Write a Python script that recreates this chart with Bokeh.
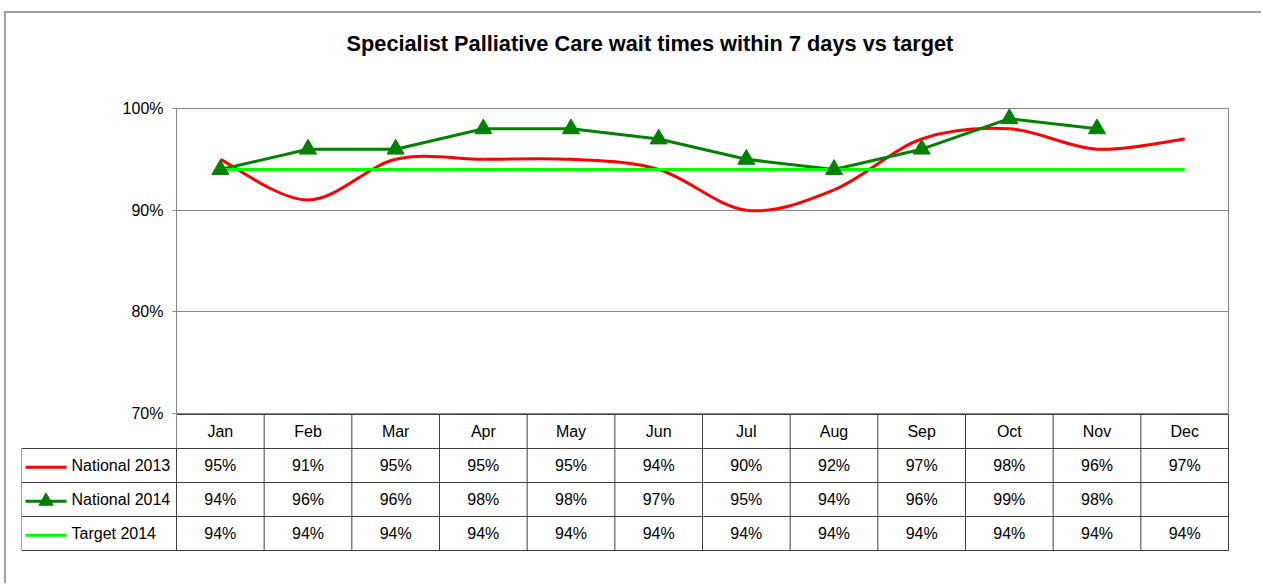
import numpy as np
from bokeh.plotting import figure
from bokeh.models import Range1d, FixedTicker, PrintfTickFormatter
from bokeh.layouts import column
from bokeh.embed import file_html
from bokeh.resources import INLINE
from bokeh.core.properties import value

# ---------------- data ----------------
months = ["Jan", "Feb", "Mar", "Apr", "May", "Jun", "Jul", "Aug", "Sep", "Oct", "Nov", "Dec"]
national_2013 = [95, 91, 95, 95, 95, 94, 90, 92, 97, 98, 96, 97]
national_2014 = [94, 96, 96, 98, 98, 97, 95, 94, 96, 99, 98, None]
target_2014 = [94, 94, 94, 94, 94, 94, 94, 94, 94, 94, 94, 94]
series_names = ["National 2013", "National 2014", "Target 2014"]
y_ticks = [70, 80, 90, 100]
title_text = "Specialist Palliative Care wait times within 7 days vs target"

# ---------------- style ----------------
FONT = "Liberation Sans"
RED = "#FF0000"
GREEN = "#008000"
LIME = "#00FF00"
GRID = "#868686"
TABLE = "#404040"

n = len(months)
xs = np.arange(n) + 0.5

# ---------------- title strip ----------------
p0 = figure(width=1255, height=85, x_range=Range1d(0, 1), y_range=Range1d(0, 1),
            output_backend="svg", toolbar_location=None,
            x_axis_location=None, y_axis_location=None,
            min_border_left=0, min_border_right=0, min_border_top=0, min_border_bottom=0)
p0.frame_align = False
p0.outline_line_color = None
for g in p0.grid:
    g.visible = False
p0.title.text = title_text
p0.title.align = "left"
p0.title.offset = 340
p0.title.text_font = FONT
p0.title.text_font_size = "21.75px"
p0.title.text_font_style = "bold"
p0.title.text_color = "black"
p0.title.standoff = 31

# ---------------- chart ----------------
OVERLAP = 12
p1 = figure(width=1255, height=315 + OVERLAP, x_range=Range1d(0, n), y_range=Range1d(70, 100),
            output_backend="svg", toolbar_location=None, x_axis_location=None,
            min_border_left=170, min_border_right=33, min_border_top=10,
            min_border_bottom=OVERLAP)
p1.frame_align = False
p1.outline_line_color = GRID
p1.outline_line_width = 1
p1.background_fill_color = "white"
p1.border_fill_color = "white"
p1.xgrid.visible = False

ax = p1.yaxis[0]
ax.ticker = FixedTicker(ticks=y_ticks)
ax.formatter = PrintfTickFormatter(format="%d%%")
ax.axis_line_color = GRID
ax.major_tick_line_color = GRID
ax.major_tick_in = 0
ax.major_tick_out = 4
ax.minor_tick_line_color = None
ax.major_label_text_font = FONT
ax.major_label_text_font_size = "16px"
ax.major_label_text_color = "black"
ax.major_label_standoff = 9
p1.ygrid.ticker = FixedTicker(ticks=y_ticks)
p1.ygrid.grid_line_color = GRID
p1.ygrid.grid_line_width = 1

# smoothed 2013 line (Catmull-Rom style Bezier through the data points)
y13 = np.array(national_2013, dtype=float)
i0 = np.arange(n - 1)
i1 = i0 + 1
prev_i = np.clip(i0 - 1, 0, n - 1)
next_i = np.clip(i0 + 2, 0, n - 1)
cx0 = xs[i0] + (xs[i1] - xs[prev_i]) / 6.0
cy0 = y13[i0] + (y13[i1] - y13[prev_i]) / 6.0
cx1 = xs[i1] - (xs[next_i] - xs[i0]) / 6.0
cy1 = y13[i1] - (y13[next_i] - y13[i0]) / 6.0
p1.bezier(x0=xs[i0], y0=y13[i0], x1=xs[i1], y1=y13[i1], cx0=cx0, cy0=cy0, cx1=cx1, cy1=cy1,
          line_color=RED, line_width=3)

y14 = np.array([np.nan if v is None else v for v in national_2014], dtype=float)
p1.line(xs, y14, line_color=GREEN, line_width=3)
p1.line(xs, target_2014, line_color=LIME, line_width=3)
p1.scatter(xs, y14, marker="triangle", size=17, fill_color=GREEN, line_color=GREEN)

# ---------------- data table ----------------
unit = 1052 / n           # pixels per month column
legend_px = 155           # width of the legend column
rowh = 34
left = -legend_px / unit
p2 = figure(width=1255, height=170,
            x_range=Range1d(left, n + 1 / unit), y_range=Range1d(4 + 2 / rowh, -1 / rowh),
            output_backend="svg", toolbar_location=None,
            x_axis_location=None, y_axis_location=None,
            min_border_left=15, min_border_right=32, min_border_top=0, min_border_bottom=31,
            styles={"margin-top": f"-{OVERLAP}px"})
p2.frame_align = False
p2.outline_line_color = None
p2.border_fill_alpha = 0
p2.background_fill_alpha = 0
for g in p2.grid:
    g.visible = False

nrows = len(series_names) + 1
hx0 = [0.0] + [left] * nrows
hx1 = [float(n)] * (nrows + 1)
hy = list(range(nrows + 1))
p2.segment(x0=hx0, y0=hy, x1=hx1, y1=hy, line_color=TABLE, line_width=1)
vx = list(range(1, n + 1)) + [left]
vy0 = [0] * n + [1]
vy1 = [nrows] * (n + 1)
p2.segment(x0=vx, y0=vy0, x1=vx, y1=vy1, line_color=TABLE, line_width=1)
# left edge of the month header continues the value axis line
p2.segment(x0=[0, 0], y0=[0, 1], x1=[0, 0], y1=[1, nrows],
           line_color=[GRID, TABLE], line_width=1)

txt = dict(text_align="center", text_baseline="middle", text_font=value(FONT),
           text_font_size="16px", text_color="black")
p2.text(x=xs, y=[0.5] * n, text=months, **txt)
for r, series in enumerate([national_2013, national_2014, target_2014]):
    labels = ["" if v is None else f"{v}%" for v in series]
    p2.text(x=xs, y=[r + 1.5] * n, text=labels, **txt)

# legend keys in the table's first column
key_x0 = left + 4 / unit
key_x1 = left + 45 / unit
key_lbl = left + 50 / unit
key_y = np.arange(len(series_names)) + 1.55
key_colors = [RED, GREEN, LIME]
p2.segment(x0=[key_x0] * 3, y0=key_y, x1=[key_x1] * 3, y1=key_y, line_color=key_colors, line_width=3)
p2.scatter(x=[(key_x0 + key_x1) / 2], y=[key_y[1]], marker="triangle", size=14,
           fill_color=GREEN, line_color=GREEN)
p2.text(x=[key_lbl] * 3, y=np.arange(len(series_names)) + 1.5, text=series_names,
        text_align="left", text_baseline="middle", text_font=value(FONT),
        text_font_size="16px", text_color="black")

layout = column(p0, p1, p2, styles={"border-top": "2px solid #a0a0a0",
                                    "border-left": "2px solid #a0a0a0",
                                    "margin-top": "11px", "margin-left": "4px"})

open("out.html", "w").write(file_html(layout, INLINE))
